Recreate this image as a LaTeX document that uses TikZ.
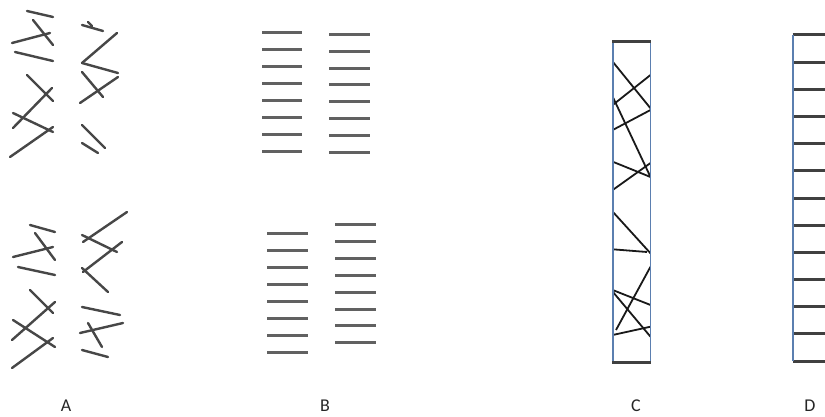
\documentclass[tikz,border=0pt]{standalone}
\usepackage{fontspec}
\setmainfont{Carlito}
\begin{document}
\begin{tikzpicture}[x=1pt,y=-1pt,
  stroke/.style={draw=black!72,line width=2.4pt,line cap=round},
  bar/.style={draw=black!62,line width=3pt},
  fibre/.style={draw=black!90,line width=1.8pt},
  edge/.style={draw=black!75,line width=3pt},
  lab/.style={font=\fontsize{18}{20}\selectfont,text=black!85}]
\useasboundingbox[fill=white] (0,0) rectangle (825,417);
\definecolor{sideblue}{HTML}{5B7FB0}
% ---------- A (top) ----------
\draw[stroke] (27,11) -- (53,17);
\draw[stroke] (33,20) -- (53,45);
\draw[stroke] (12,43) -- (50,33);
\draw[stroke] (15,52) -- (53,61);
\draw[stroke] (27,75) -- (53,101);
\draw[stroke] (52,88) -- (13,128);
\draw[stroke] (13,113) -- (53,132);
\draw[stroke] (10,157) -- (53,127);
\draw[stroke] (82,25) -- (103,31);
\draw[stroke] (88,22) -- (92,26);
\draw[stroke] (117,33) -- (82,63);
\draw[stroke] (82,63) -- (118,73);
\draw[stroke] (82,72) -- (103,97);
\draw[stroke] (118,77) -- (80,103);
\draw[stroke] (82,125) -- (105,148);
\draw[stroke] (82,143) -- (98,153);
% ---------- A (bottom) ----------
\draw[stroke] (30,225) -- (55,232);
\draw[stroke] (35,233) -- (55,260);
\draw[stroke] (13,257) -- (53,247);
\draw[stroke] (18,267) -- (55,275);
\draw[stroke] (30,290) -- (53,313);
\draw[stroke] (55,302) -- (12,340);
\draw[stroke] (13,320) -- (55,347);
\draw[stroke] (12,368) -- (53,338);
\draw[stroke] (127,212) -- (83,242);
\draw[stroke] (82,235) -- (117,252);
\draw[stroke] (122,242) -- (83,272);
\draw[stroke] (82,268) -- (108,292);
\draw[stroke] (82,307) -- (120,315);
\draw[stroke] (80,333) -- (123,323);
\draw[stroke] (88,323) -- (102,347);
\draw[stroke] (82,350) -- (108,357);
% ---------- B ----------
\foreach \i in {0,...,7}{
  \draw[bar] (262,{33+16.9*\i}) -- (302,{33+16.9*\i});
  \draw[bar] (329,{34.5+16.8*\i}) -- (370,{34.5+16.8*\i});
  \draw[bar] (267,{233+17*\i}) -- (308,{233+17*\i});
  \draw[bar] (335,{224.5+16.9*\i}) -- (376,{224.5+16.9*\i});
}
% ---------- C ----------
\begin{scope}
\clip (612.7,42) rectangle (650.5,362.5);
\draw[fibre] (612.7,61.7) -- (650.5,108.3);
\draw[fibre] (650.5,75) -- (612.7,105);
\draw[fibre] (613.3,98) -- (650.5,177);
\draw[fibre] (650.5,110) -- (612.7,130);
\draw[fibre] (612.7,161.7) -- (650.5,177);
\draw[fibre] (650.5,163) -- (612.7,190);
\draw[fibre] (612.7,211.7) -- (650.5,253.3);
\draw[fibre] (612.7,249.3) -- (647,252);
\draw[fibre] (650.5,266.7) -- (616,330);
\draw[fibre] (612.7,290) -- (650.5,305);
\draw[fibre] (612.7,291.7) -- (650.5,336.7);
\draw[fibre] (612.7,335) -- (650.5,326.7);
\end{scope}
\draw[draw=sideblue,line width=1.8pt] (612.7,42) -- (612.7,362.5);
\draw[draw=sideblue,line width=1.8pt] (650.5,42) -- (650.5,362.5);
\draw[edge] (612,42) -- (651.3,42);
\draw[edge] (612,362.5) -- (651.3,362.5);
% ---------- D ----------
\foreach \i in {0,...,12}{
  \draw[edge] (792.7,{35+27.17*\i}) -- (826,{35+27.17*\i});
}
\draw[draw=sideblue,line width=1.8pt] (792.7,35) -- (792.7,361);
% ---------- labels ----------
\node[lab] (la) at (66,406) {A};
\node[lab] (lb) at (325,406) {B};
\node[lab] (lc) at (636,406) {C};
\node[lab] (ld) at (810,406) {D};
\end{tikzpicture}
\end{document}
